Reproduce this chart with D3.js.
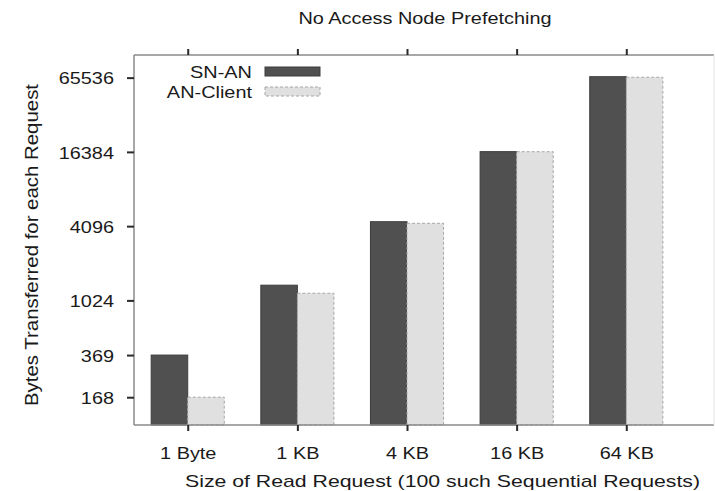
<!DOCTYPE html>
<html>
<head>
<meta charset="utf-8">
<script src="https://cdn.jsdelivr.net/npm/d3@7"></script>
<style>
  html, body { margin: 0; padding: 0; background: #fff; }
  svg { display: block; }
  text { font-family: "Liberation Sans", Arial, Helvetica, sans-serif; fill: #1a1a1a; }
</style>
</head>
<body>
<svg id="chart" width="715" height="491"></svg>
<script>
// Request sizes on the x axis
const categories = ["1 Byte", "1 KB", "4 KB", "16 KB", "64 KB"];
// Bytes moved per request, storage node -> access node
const snAn = [369, 1360, 4450, 16460, 66700];
// Bytes moved per request, access node -> client
const anClient = [168, 1170, 4320, 16440, 66000];
// Labelled marks on the log-scaled y axis
const yTicks = [168, 369, 1024, 4096, 16384, 65536];
const seriesNames = ["SN-AN", "AN-Client"];

const svg = d3.select("#chart");
const plot = { left: 134, right: 714, top: 55, bottom: 425 };
const FONT = 17;
const STRETCH = 1.17;

// widen text horizontally to the face used in the figure
function stretch(sel, factor) {
  sel.each(function () {
    const w = this.getComputedTextLength();
    this.setAttribute("textLength", w * (factor || STRETCH));
    this.setAttribute("lengthAdjust", "spacingAndGlyphs");
  });
}
// fit text to a given run length
function fit(sel, len) {
  sel.attr("textLength", len).attr("lengthAdjust", "spacingAndGlyphs");
}

const idx = categories.map((d, i) => i);
const x = d3.scaleLinear().domain([-0.49, 4.8]).range([plot.left, plot.right]);
const y = d3.scaleLog().domain([100, 100000]).range([plot.bottom, plot.top]);
const barW = (x(1) - x(0)) / 3;

// bars
const groups = svg.append("g");
groups.selectAll("rect.sn").data(snAn).join("rect")
  .attr("class", "sn")
  .attr("x", (d, i) => x(i) - barW)
  .attr("y", d => y(d))
  .attr("width", barW)
  .attr("height", d => plot.bottom - y(d))
  .attr("fill", "#505050")
  .attr("stroke", "#3c3c3c")
  .attr("stroke-width", 1);

groups.selectAll("rect.an").data(anClient).join("rect")
  .attr("class", "an")
  .attr("x", (d, i) => x(i))
  .attr("y", d => y(d))
  .attr("width", barW)
  .attr("height", d => plot.bottom - y(d))
  .attr("fill", "#e0e0e0")
  .attr("stroke", "#a6a6a6")
  .attr("stroke-width", 1)
  .attr("stroke-dasharray", "3,2");

// frame
const frame = svg.append("g").attr("fill", "none");
frame.append("line").attr("x1", plot.left).attr("x2", plot.right).attr("y1", plot.top).attr("y2", plot.top)
  .attr("stroke", "#8a8a8a").attr("stroke-width", 1.5);
frame.append("line").attr("x1", plot.left).attr("x2", plot.right).attr("y1", plot.bottom).attr("y2", plot.bottom)
  .attr("stroke", "#8a8a8a").attr("stroke-width", 1.5);
frame.append("line").attr("x1", plot.left).attr("x2", plot.left).attr("y1", plot.top).attr("y2", plot.bottom)
  .attr("stroke", "#8a8a8a").attr("stroke-width", 1.5);
frame.append("line").attr("x1", plot.right).attr("x2", plot.right).attr("y1", plot.top).attr("y2", plot.bottom)
  .attr("stroke", "#e4e4e4").attr("stroke-width", 1);

// y axis
const yAxis = svg.append("g").attr("transform", `translate(${plot.left},0)`)
  .call(d3.axisLeft(y).tickValues(yTicks).tickFormat(d3.format("d")).tickSize(7).tickPadding(13));
yAxis.select(".domain").remove();
yAxis.attr("font-family", null);
yAxis.selectAll(".tick line").attr("stroke", "#2a2a2a").attr("stroke-width", 2);
yAxis.selectAll(".tick text").attr("font-size", FONT).attr("dy", "0.36em").call(stretch);

// x axis (bottom) with category labels
const xAxis = svg.append("g").attr("transform", `translate(0,${plot.bottom})`)
  .call(d3.axisBottom(x).tickValues(idx).tickFormat(i => categories[i]).tickSize(6).tickPadding(16));
xAxis.select(".domain").remove();
xAxis.attr("font-family", null);
xAxis.selectAll(".tick line").attr("stroke", "#2a2a2a").attr("stroke-width", 2);
xAxis.selectAll(".tick text").attr("font-size", FONT).attr("dy", "0.71em").call(stretch);

// mirrored ticks on the top edge
const xTop = svg.append("g").attr("transform", `translate(0,${plot.top})`)
  .call(d3.axisTop(x).tickValues(idx).tickFormat("").tickSize(6));
xTop.select(".domain").remove();
xTop.selectAll(".tick line").attr("stroke", "#2a2a2a").attr("stroke-width", 2);

// title
svg.append("text").attr("x", 425).attr("y", 24).attr("text-anchor", "middle")
  .attr("font-size", FONT).text("No Access Node Prefetching").call(stretch);

// axis titles
svg.append("text").attr("x", 442.5).attr("y", 486.5).attr("text-anchor", "middle")
  .attr("font-size", FONT).text("Size of Read Request (100 such Sequential Requests)").call(fit, 515);

svg.append("text").attr("transform", "translate(38,245) rotate(-90)").attr("text-anchor", "middle")
  .attr("font-size", FONT + 0.5).text("Bytes Transferred for each Request").call(fit, 322);

// legend
const legend = svg.append("g");
const legendRows = [
  { name: seriesNames[0], fill: "#505050", stroke: "#3c3c3c", dash: null },
  { name: seriesNames[1], fill: "#e0e0e0", stroke: "#a6a6a6", dash: "3,2" }
];
legendRows.forEach((r, i) => {
  const cy = 71.5 + i * 20;
  legend.append("text").attr("x", 252).attr("y", cy).attr("dy", "0.36em").attr("text-anchor", "end")
    .attr("font-size", FONT).text(r.name).call(stretch);
  legend.append("rect").attr("x", 265).attr("y", cy - 4.5).attr("width", 55).attr("height", 9)
    .attr("fill", r.fill).attr("stroke", r.stroke).attr("stroke-width", 1)
    .attr("stroke-dasharray", r.dash);
});
</script>
</body>
</html>
